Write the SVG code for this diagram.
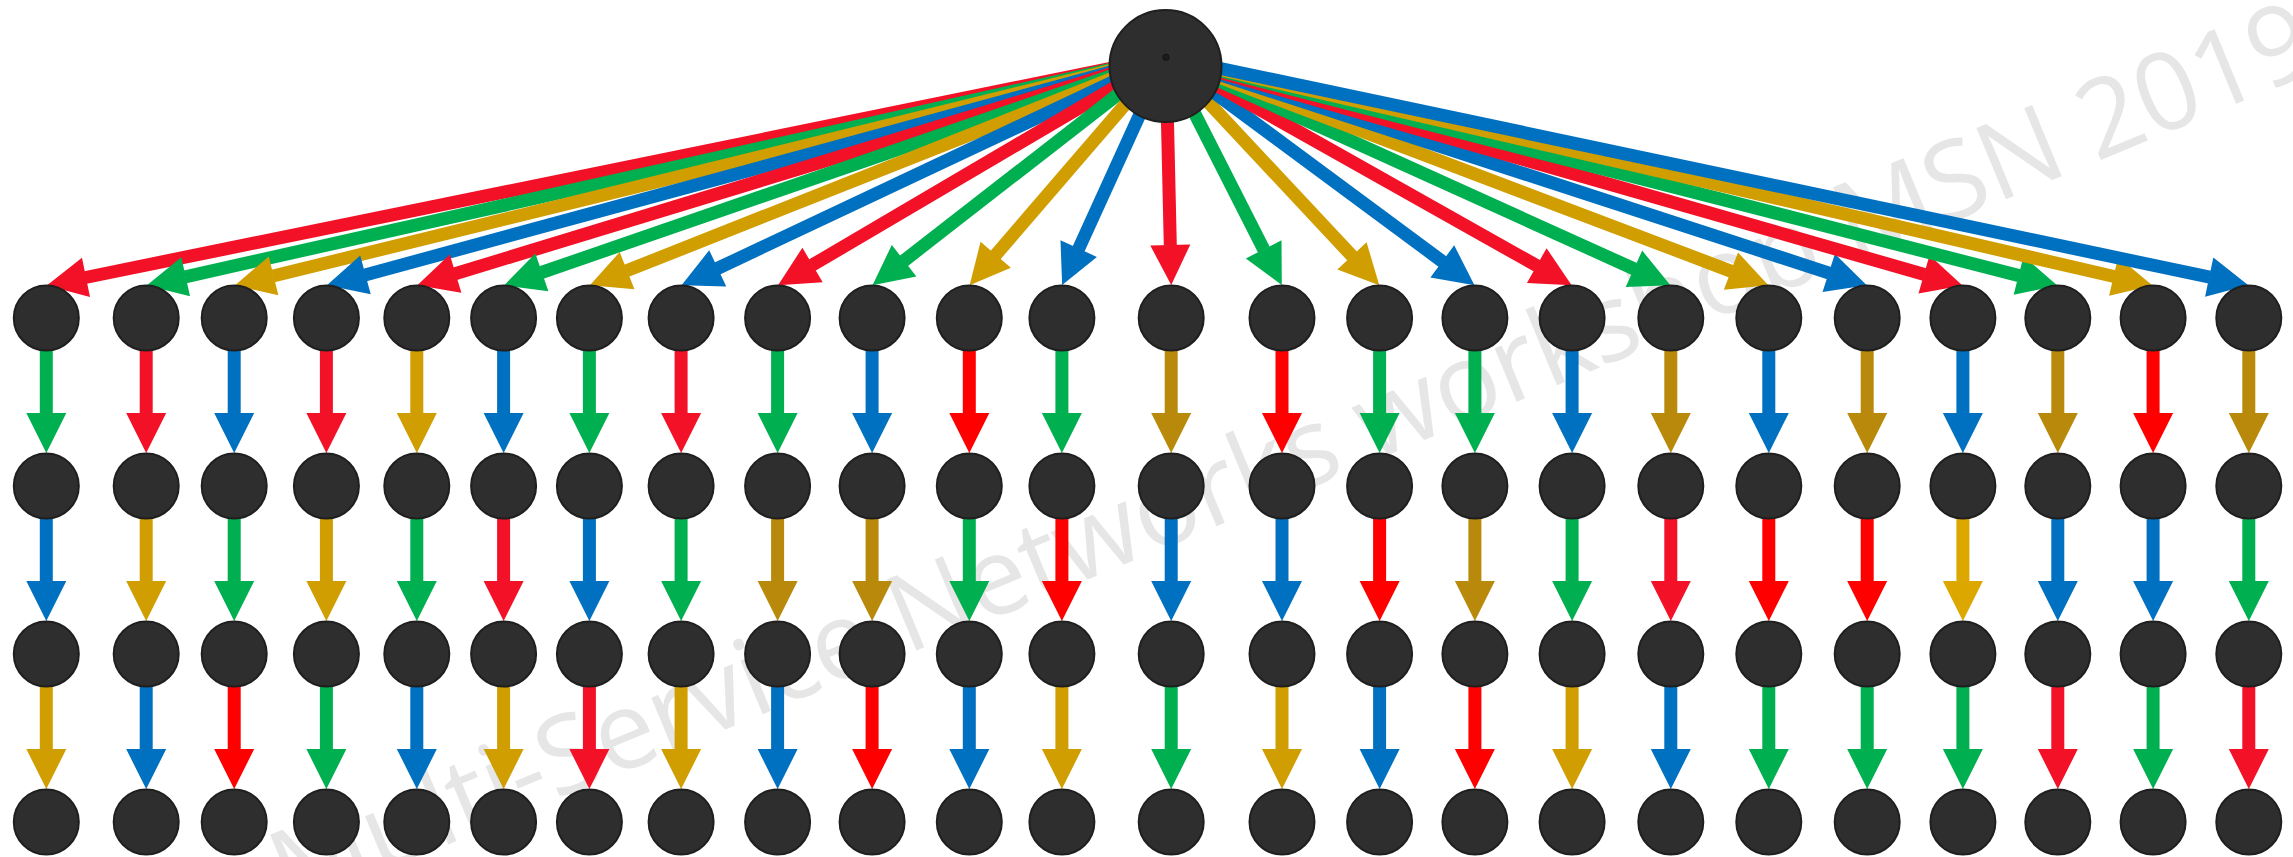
<svg xmlns="http://www.w3.org/2000/svg" width="2293" height="857" viewBox="0 0 2293 857">
  <style>
    .node { fill: #2e2e2e; stroke: #1f1f1f; stroke-width: 2; }
    .edge { stroke-width: 13; fill: none; stroke-linecap: butt; }
    .R { stroke: #f21126; marker-end: url(#h-R); }
    .P { stroke: #ff0000; marker-end: url(#h-P); }
    .G { stroke: #00b050; marker-end: url(#h-G); }
    .B { stroke: #0070c0; marker-end: url(#h-B); }
    .Y { stroke: #d09e00; marker-end: url(#h-Y); }
    .D { stroke: #b8890b; marker-end: url(#h-D); }
    .L { stroke: #dca800; marker-end: url(#h-L); }
    .mark { font-family: "Open Sans", "Noto Sans", sans-serif; font-size: 108px; fill: #e6e6e6; }
  </style>
  <defs>
    <marker id="h-R" markerUnits="userSpaceOnUse" viewBox="0 -20 40 40" refX="0.5" refY="0" markerWidth="40" markerHeight="40" orient="auto" overflow="visible"><path d="M0,-20 L40,0 L0,20 Z" fill="#f21126"/></marker>
    <marker id="h-P" markerUnits="userSpaceOnUse" viewBox="0 -20 40 40" refX="0.5" refY="0" markerWidth="40" markerHeight="40" orient="auto" overflow="visible"><path d="M0,-20 L40,0 L0,20 Z" fill="#ff0000"/></marker>
    <marker id="h-G" markerUnits="userSpaceOnUse" viewBox="0 -20 40 40" refX="0.5" refY="0" markerWidth="40" markerHeight="40" orient="auto" overflow="visible"><path d="M0,-20 L40,0 L0,20 Z" fill="#00b050"/></marker>
    <marker id="h-B" markerUnits="userSpaceOnUse" viewBox="0 -20 40 40" refX="0.5" refY="0" markerWidth="40" markerHeight="40" orient="auto" overflow="visible"><path d="M0,-20 L40,0 L0,20 Z" fill="#0070c0"/></marker>
    <marker id="h-Y" markerUnits="userSpaceOnUse" viewBox="0 -20 40 40" refX="0.5" refY="0" markerWidth="40" markerHeight="40" orient="auto" overflow="visible"><path d="M0,-20 L40,0 L0,20 Z" fill="#d09e00"/></marker>
    <marker id="h-D" markerUnits="userSpaceOnUse" viewBox="0 -20 40 40" refX="0.5" refY="0" markerWidth="40" markerHeight="40" orient="auto" overflow="visible"><path d="M0,-20 L40,0 L0,20 Z" fill="#b8890b"/></marker>
    <marker id="h-L" markerUnits="userSpaceOnUse" viewBox="0 -20 40 40" refX="0.5" refY="0" markerWidth="40" markerHeight="40" orient="auto" overflow="visible"><path d="M0,-20 L40,0 L0,20 Z" fill="#dca800"/></marker>
  </defs>

  <rect width="2293" height="857" fill="#ffffff"/>

  <!-- background caption, running diagonally behind the graph -->
  <g id="watermark">
    <text class="mark" transform="translate(290,910) rotate(-22.5)" textLength="2200" lengthAdjust="spacing">Multi-Service Networks workshop MSN 2019</text>
  </g>

  <g id="connectors">
    <!-- fan-out from the root to the first row -->
    <line class="edge R" x1="1166" y1="57" x2="85.5" y2="277.5"/>
    <line class="edge G" x1="1166" y1="57" x2="185.2" y2="276.8"/>
    <line class="edge Y" x1="1166" y1="57" x2="273.1" y2="276.0"/>
    <line class="edge B" x1="1166" y1="57" x2="365.0" y2="275.0"/>
    <line class="edge R" x1="1166" y1="57" x2="455.1" y2="273.8"/>
    <line class="edge G" x1="1166" y1="57" x2="541.4" y2="272.5"/>
    <line class="edge Y" x1="1166" y1="57" x2="626.6" y2="270.8"/>
    <line class="edge B" x1="1166" y1="57" x2="717.3" y2="268.5"/>
    <line class="edge R" x1="1166" y1="57" x2="812.1" y2="265.2"/>
    <line class="edge G" x1="1166" y1="57" x2="903.7" y2="261.0"/>
    <line class="edge Y" x1="1166" y1="57" x2="995.4" y2="255.2"/>
    <line class="edge B" x1="1166" y1="57" x2="1078.5" y2="249.1"/>
    <line class="edge R" x1="1166" y1="57" x2="1170.3" y2="245.5"/>
    <line class="edge G" x1="1166" y1="57" x2="1263.9" y2="249.8"/>
    <line class="edge Y" x1="1166" y1="57" x2="1352.3" y2="256.3"/>
    <line class="edge B" x1="1166" y1="57" x2="1442.7" y2="261.7"/>
    <line class="edge R" x1="1166" y1="57" x2="1537.2" y2="265.9"/>
    <line class="edge G" x1="1166" y1="57" x2="1634.4" y2="269.0"/>
    <line class="edge Y" x1="1166" y1="57" x2="1731.4" y2="271.3"/>
    <line class="edge B" x1="1166" y1="57" x2="1829.2" y2="273.1"/>
    <line class="edge R" x1="1166" y1="57" x2="1924.5" y2="274.5"/>
    <line class="edge G" x1="1166" y1="57" x2="2019.1" y2="275.6"/>
    <line class="edge Y" x1="1166" y1="57" x2="2114.1" y2="276.5"/>
    <line class="edge B" x1="1166" y1="57" x2="2209.7" y2="277.2"/>

    <!-- row 1 to row 2 -->
    <line class="edge G" x1="46.3" y1="318" x2="46.3" y2="413.5"/>
    <line class="edge R" x1="146.2" y1="318" x2="146.2" y2="413.5"/>
    <line class="edge B" x1="234.2" y1="318" x2="234.2" y2="413.5"/>
    <line class="edge R" x1="326.4" y1="318" x2="326.4" y2="413.5"/>
    <line class="edge Y" x1="416.8" y1="318" x2="416.8" y2="413.5"/>
    <line class="edge B" x1="503.6" y1="318" x2="503.6" y2="413.5"/>
    <line class="edge G" x1="589.4" y1="318" x2="589.4" y2="413.5"/>
    <line class="edge R" x1="681.1" y1="318" x2="681.1" y2="413.5"/>
    <line class="edge G" x1="777.6" y1="318" x2="777.6" y2="413.5"/>
    <line class="edge B" x1="872.1" y1="318" x2="872.1" y2="413.5"/>
    <line class="edge P" x1="969.3" y1="318" x2="969.3" y2="413.5"/>
    <line class="edge G" x1="1061.9" y1="318" x2="1061.9" y2="413.5"/>
    <line class="edge D" x1="1171.2" y1="318" x2="1171.2" y2="413.5"/>
    <line class="edge P" x1="1282" y1="318" x2="1282" y2="413.5"/>
    <line class="edge G" x1="1379.6" y1="318" x2="1379.6" y2="413.5"/>
    <line class="edge G" x1="1474.9" y1="318" x2="1474.9" y2="413.5"/>
    <line class="edge B" x1="1572.1" y1="318" x2="1572.1" y2="413.5"/>
    <line class="edge D" x1="1670.8" y1="318" x2="1670.8" y2="413.5"/>
    <line class="edge B" x1="1768.8" y1="318" x2="1768.8" y2="413.5"/>
    <line class="edge D" x1="1867.2" y1="318" x2="1867.2" y2="413.5"/>
    <line class="edge B" x1="1962.9" y1="318" x2="1962.9" y2="413.5"/>
    <line class="edge D" x1="2057.8" y1="318" x2="2057.8" y2="413.5"/>
    <line class="edge P" x1="2153.1" y1="318" x2="2153.1" y2="413.5"/>
    <line class="edge D" x1="2248.8" y1="318" x2="2248.8" y2="413.5"/>

    <!-- row 2 to row 3 -->
    <line class="edge B" x1="46.3" y1="486" x2="46.3" y2="581.5"/>
    <line class="edge Y" x1="146.2" y1="486" x2="146.2" y2="581.5"/>
    <line class="edge G" x1="234.2" y1="486" x2="234.2" y2="581.5"/>
    <line class="edge Y" x1="326.4" y1="486" x2="326.4" y2="581.5"/>
    <line class="edge G" x1="416.8" y1="486" x2="416.8" y2="581.5"/>
    <line class="edge R" x1="503.6" y1="486" x2="503.6" y2="581.5"/>
    <line class="edge B" x1="589.4" y1="486" x2="589.4" y2="581.5"/>
    <line class="edge G" x1="681.1" y1="486" x2="681.1" y2="581.5"/>
    <line class="edge D" x1="777.6" y1="486" x2="777.6" y2="581.5"/>
    <line class="edge D" x1="872.1" y1="486" x2="872.1" y2="581.5"/>
    <line class="edge G" x1="969.3" y1="486" x2="969.3" y2="581.5"/>
    <line class="edge P" x1="1061.9" y1="486" x2="1061.9" y2="581.5"/>
    <line class="edge B" x1="1171.2" y1="486" x2="1171.2" y2="581.5"/>
    <line class="edge B" x1="1282" y1="486" x2="1282" y2="581.5"/>
    <line class="edge P" x1="1379.6" y1="486" x2="1379.6" y2="581.5"/>
    <line class="edge D" x1="1474.9" y1="486" x2="1474.9" y2="581.5"/>
    <line class="edge G" x1="1572.1" y1="486" x2="1572.1" y2="581.5"/>
    <line class="edge R" x1="1670.8" y1="486" x2="1670.8" y2="581.5"/>
    <line class="edge P" x1="1768.8" y1="486" x2="1768.8" y2="581.5"/>
    <line class="edge P" x1="1867.2" y1="486" x2="1867.2" y2="581.5"/>
    <line class="edge L" x1="1962.9" y1="486" x2="1962.9" y2="581.5"/>
    <line class="edge B" x1="2057.8" y1="486" x2="2057.8" y2="581.5"/>
    <line class="edge B" x1="2153.1" y1="486" x2="2153.1" y2="581.5"/>
    <line class="edge G" x1="2248.8" y1="486" x2="2248.8" y2="581.5"/>

    <!-- row 3 to row 4 -->
    <line class="edge Y" x1="46.3" y1="654" x2="46.3" y2="749.5"/>
    <line class="edge B" x1="146.2" y1="654" x2="146.2" y2="749.5"/>
    <line class="edge P" x1="234.2" y1="654" x2="234.2" y2="749.5"/>
    <line class="edge G" x1="326.4" y1="654" x2="326.4" y2="749.5"/>
    <line class="edge B" x1="416.8" y1="654" x2="416.8" y2="749.5"/>
    <line class="edge Y" x1="503.6" y1="654" x2="503.6" y2="749.5"/>
    <line class="edge R" x1="589.4" y1="654" x2="589.4" y2="749.5"/>
    <line class="edge Y" x1="681.1" y1="654" x2="681.1" y2="749.5"/>
    <line class="edge B" x1="777.6" y1="654" x2="777.6" y2="749.5"/>
    <line class="edge P" x1="872.1" y1="654" x2="872.1" y2="749.5"/>
    <line class="edge B" x1="969.3" y1="654" x2="969.3" y2="749.5"/>
    <line class="edge Y" x1="1061.9" y1="654" x2="1061.9" y2="749.5"/>
    <line class="edge G" x1="1171.2" y1="654" x2="1171.2" y2="749.5"/>
    <line class="edge Y" x1="1282" y1="654" x2="1282" y2="749.5"/>
    <line class="edge B" x1="1379.6" y1="654" x2="1379.6" y2="749.5"/>
    <line class="edge P" x1="1474.9" y1="654" x2="1474.9" y2="749.5"/>
    <line class="edge Y" x1="1572.1" y1="654" x2="1572.1" y2="749.5"/>
    <line class="edge B" x1="1670.8" y1="654" x2="1670.8" y2="749.5"/>
    <line class="edge G" x1="1768.8" y1="654" x2="1768.8" y2="749.5"/>
    <line class="edge G" x1="1867.2" y1="654" x2="1867.2" y2="749.5"/>
    <line class="edge G" x1="1962.9" y1="654" x2="1962.9" y2="749.5"/>
    <line class="edge R" x1="2057.8" y1="654" x2="2057.8" y2="749.5"/>
    <line class="edge G" x1="2153.1" y1="654" x2="2153.1" y2="749.5"/>
    <line class="edge R" x1="2248.8" y1="654" x2="2248.8" y2="749.5"/>
  </g>

  <g id="root">
    <circle class="node" cx="1165.5" cy="66" r="56" stroke-width="2.5"/>
    <circle cx="1166" cy="57.3" r="3.2" fill="#1c1c1c" stroke="#141414" stroke-width="1"/>
  </g>

  <!-- row 1 -->
  <g id="n1-01"><circle class="node" cx="46.3" cy="318" r="32.5"/></g>
  <g id="n1-02"><circle class="node" cx="146.2" cy="318" r="32.5"/></g>
  <g id="n1-03"><circle class="node" cx="234.2" cy="318" r="32.5"/></g>
  <g id="n1-04"><circle class="node" cx="326.4" cy="318" r="32.5"/></g>
  <g id="n1-05"><circle class="node" cx="416.8" cy="318" r="32.5"/></g>
  <g id="n1-06"><circle class="node" cx="503.6" cy="318" r="32.5"/></g>
  <g id="n1-07"><circle class="node" cx="589.4" cy="318" r="32.5"/></g>
  <g id="n1-08"><circle class="node" cx="681.1" cy="318" r="32.5"/></g>
  <g id="n1-09"><circle class="node" cx="777.6" cy="318" r="32.5"/></g>
  <g id="n1-10"><circle class="node" cx="872.1" cy="318" r="32.5"/></g>
  <g id="n1-11"><circle class="node" cx="969.3" cy="318" r="32.5"/></g>
  <g id="n1-12"><circle class="node" cx="1061.9" cy="318" r="32.5"/></g>
  <g id="n1-13"><circle class="node" cx="1171.2" cy="318" r="32.5"/></g>
  <g id="n1-14"><circle class="node" cx="1282" cy="318" r="32.5"/></g>
  <g id="n1-15"><circle class="node" cx="1379.6" cy="318" r="32.5"/></g>
  <g id="n1-16"><circle class="node" cx="1474.9" cy="318" r="32.5"/></g>
  <g id="n1-17"><circle class="node" cx="1572.1" cy="318" r="32.5"/></g>
  <g id="n1-18"><circle class="node" cx="1670.8" cy="318" r="32.5"/></g>
  <g id="n1-19"><circle class="node" cx="1768.8" cy="318" r="32.5"/></g>
  <g id="n1-20"><circle class="node" cx="1867.2" cy="318" r="32.5"/></g>
  <g id="n1-21"><circle class="node" cx="1962.9" cy="318" r="32.5"/></g>
  <g id="n1-22"><circle class="node" cx="2057.8" cy="318" r="32.5"/></g>
  <g id="n1-23"><circle class="node" cx="2153.1" cy="318" r="32.5"/></g>
  <g id="n1-24"><circle class="node" cx="2248.8" cy="318" r="32.5"/></g>

  <!-- row 2 -->
  <g id="n2-01"><circle class="node" cx="46.3" cy="486" r="32.5"/></g>
  <g id="n2-02"><circle class="node" cx="146.2" cy="486" r="32.5"/></g>
  <g id="n2-03"><circle class="node" cx="234.2" cy="486" r="32.5"/></g>
  <g id="n2-04"><circle class="node" cx="326.4" cy="486" r="32.5"/></g>
  <g id="n2-05"><circle class="node" cx="416.8" cy="486" r="32.5"/></g>
  <g id="n2-06"><circle class="node" cx="503.6" cy="486" r="32.5"/></g>
  <g id="n2-07"><circle class="node" cx="589.4" cy="486" r="32.5"/></g>
  <g id="n2-08"><circle class="node" cx="681.1" cy="486" r="32.5"/></g>
  <g id="n2-09"><circle class="node" cx="777.6" cy="486" r="32.5"/></g>
  <g id="n2-10"><circle class="node" cx="872.1" cy="486" r="32.5"/></g>
  <g id="n2-11"><circle class="node" cx="969.3" cy="486" r="32.5"/></g>
  <g id="n2-12"><circle class="node" cx="1061.9" cy="486" r="32.5"/></g>
  <g id="n2-13"><circle class="node" cx="1171.2" cy="486" r="32.5"/></g>
  <g id="n2-14"><circle class="node" cx="1282" cy="486" r="32.5"/></g>
  <g id="n2-15"><circle class="node" cx="1379.6" cy="486" r="32.5"/></g>
  <g id="n2-16"><circle class="node" cx="1474.9" cy="486" r="32.5"/></g>
  <g id="n2-17"><circle class="node" cx="1572.1" cy="486" r="32.5"/></g>
  <g id="n2-18"><circle class="node" cx="1670.8" cy="486" r="32.5"/></g>
  <g id="n2-19"><circle class="node" cx="1768.8" cy="486" r="32.5"/></g>
  <g id="n2-20"><circle class="node" cx="1867.2" cy="486" r="32.5"/></g>
  <g id="n2-21"><circle class="node" cx="1962.9" cy="486" r="32.5"/></g>
  <g id="n2-22"><circle class="node" cx="2057.8" cy="486" r="32.5"/></g>
  <g id="n2-23"><circle class="node" cx="2153.1" cy="486" r="32.5"/></g>
  <g id="n2-24"><circle class="node" cx="2248.8" cy="486" r="32.5"/></g>

  <!-- row 3 -->
  <g id="n3-01"><circle class="node" cx="46.3" cy="654" r="32.5"/></g>
  <g id="n3-02"><circle class="node" cx="146.2" cy="654" r="32.5"/></g>
  <g id="n3-03"><circle class="node" cx="234.2" cy="654" r="32.5"/></g>
  <g id="n3-04"><circle class="node" cx="326.4" cy="654" r="32.5"/></g>
  <g id="n3-05"><circle class="node" cx="416.8" cy="654" r="32.5"/></g>
  <g id="n3-06"><circle class="node" cx="503.6" cy="654" r="32.5"/></g>
  <g id="n3-07"><circle class="node" cx="589.4" cy="654" r="32.5"/></g>
  <g id="n3-08"><circle class="node" cx="681.1" cy="654" r="32.5"/></g>
  <g id="n3-09"><circle class="node" cx="777.6" cy="654" r="32.5"/></g>
  <g id="n3-10"><circle class="node" cx="872.1" cy="654" r="32.5"/></g>
  <g id="n3-11"><circle class="node" cx="969.3" cy="654" r="32.5"/></g>
  <g id="n3-12"><circle class="node" cx="1061.9" cy="654" r="32.5"/></g>
  <g id="n3-13"><circle class="node" cx="1171.2" cy="654" r="32.5"/></g>
  <g id="n3-14"><circle class="node" cx="1282" cy="654" r="32.5"/></g>
  <g id="n3-15"><circle class="node" cx="1379.6" cy="654" r="32.5"/></g>
  <g id="n3-16"><circle class="node" cx="1474.9" cy="654" r="32.5"/></g>
  <g id="n3-17"><circle class="node" cx="1572.1" cy="654" r="32.5"/></g>
  <g id="n3-18"><circle class="node" cx="1670.8" cy="654" r="32.5"/></g>
  <g id="n3-19"><circle class="node" cx="1768.8" cy="654" r="32.5"/></g>
  <g id="n3-20"><circle class="node" cx="1867.2" cy="654" r="32.5"/></g>
  <g id="n3-21"><circle class="node" cx="1962.9" cy="654" r="32.5"/></g>
  <g id="n3-22"><circle class="node" cx="2057.8" cy="654" r="32.5"/></g>
  <g id="n3-23"><circle class="node" cx="2153.1" cy="654" r="32.5"/></g>
  <g id="n3-24"><circle class="node" cx="2248.8" cy="654" r="32.5"/></g>

  <!-- row 4 -->
  <g id="n4-01"><circle class="node" cx="46.3" cy="822" r="32.5"/></g>
  <g id="n4-02"><circle class="node" cx="146.2" cy="822" r="32.5"/></g>
  <g id="n4-03"><circle class="node" cx="234.2" cy="822" r="32.5"/></g>
  <g id="n4-04"><circle class="node" cx="326.4" cy="822" r="32.5"/></g>
  <g id="n4-05"><circle class="node" cx="416.8" cy="822" r="32.5"/></g>
  <g id="n4-06"><circle class="node" cx="503.6" cy="822" r="32.5"/></g>
  <g id="n4-07"><circle class="node" cx="589.4" cy="822" r="32.5"/></g>
  <g id="n4-08"><circle class="node" cx="681.1" cy="822" r="32.5"/></g>
  <g id="n4-09"><circle class="node" cx="777.6" cy="822" r="32.5"/></g>
  <g id="n4-10"><circle class="node" cx="872.1" cy="822" r="32.5"/></g>
  <g id="n4-11"><circle class="node" cx="969.3" cy="822" r="32.5"/></g>
  <g id="n4-12"><circle class="node" cx="1061.9" cy="822" r="32.5"/></g>
  <g id="n4-13"><circle class="node" cx="1171.2" cy="822" r="32.5"/></g>
  <g id="n4-14"><circle class="node" cx="1282" cy="822" r="32.5"/></g>
  <g id="n4-15"><circle class="node" cx="1379.6" cy="822" r="32.5"/></g>
  <g id="n4-16"><circle class="node" cx="1474.9" cy="822" r="32.5"/></g>
  <g id="n4-17"><circle class="node" cx="1572.1" cy="822" r="32.5"/></g>
  <g id="n4-18"><circle class="node" cx="1670.8" cy="822" r="32.5"/></g>
  <g id="n4-19"><circle class="node" cx="1768.8" cy="822" r="32.5"/></g>
  <g id="n4-20"><circle class="node" cx="1867.2" cy="822" r="32.5"/></g>
  <g id="n4-21"><circle class="node" cx="1962.9" cy="822" r="32.5"/></g>
  <g id="n4-22"><circle class="node" cx="2057.8" cy="822" r="32.5"/></g>
  <g id="n4-23"><circle class="node" cx="2153.1" cy="822" r="32.5"/></g>
  <g id="n4-24"><circle class="node" cx="2248.8" cy="822" r="32.5"/></g>
</svg>
